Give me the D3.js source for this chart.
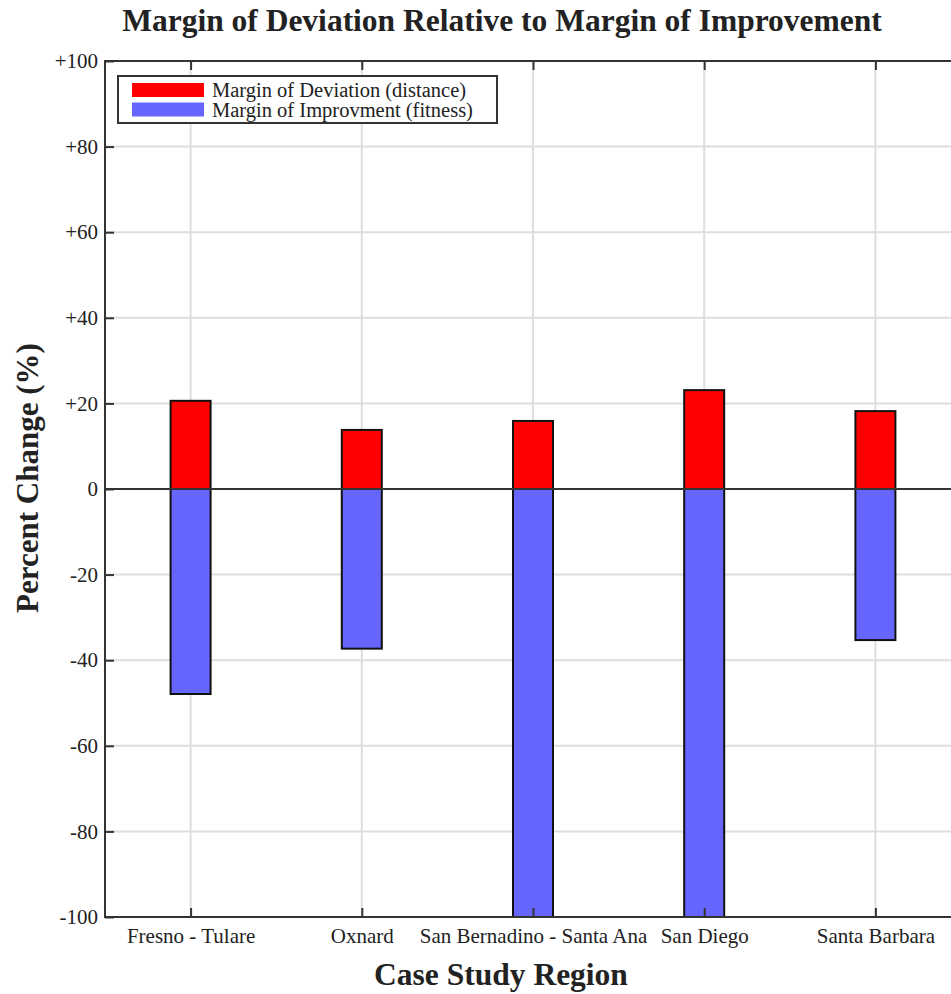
<!DOCTYPE html>
<html><head><meta charset="utf-8">
<script src="https://cdn.jsdelivr.net/npm/d3@7"></script>
<style>body{margin:0;background:#fff;overflow:hidden}</style>
</head><body>
<script>
const categories = ["Fresno - Tulare","Oxnard","San Bernadino - Santa Ana","San Diego","Santa Barbara"];
const deviation = [20.6, 13.8, 15.9, 23.1, 18.2];
const improvement = [-47.9, -37.3, -100, -100, -35.3];
const yTicks = [100,80,60,40,20,0,-20,-40,-60,-80,-100];
const seriesNames = ["Margin of Deviation (distance)","Margin of Improvment (fitness)"];
const colors = ["#ff0000","#6666ff"];

const W=951,H=994;
const m={left:105,right:961,top:61,bottom:917};
const FF="'Liberation Serif','Times New Roman',serif";
const svg=d3.select("body").append("svg").attr("width",W).attr("height",H)
  .style("font-family",FF);

const x=d3.scalePoint().domain(categories).range([m.left,m.right]).padding(0.5);
const y=d3.scaleLinear().domain([-100,100]).range([m.bottom,m.top]);
const bw=40;

// grid
svg.append("g").selectAll("line").data(yTicks).join("line")
  .attr("x1",m.left).attr("x2",m.right).attr("y1",d=>y(d)).attr("y2",d=>y(d))
  .attr("stroke","#dedede").attr("stroke-width",2);
svg.append("g").selectAll("line").data(categories).join("line")
  .attr("x1",d=>x(d)).attr("x2",d=>x(d)).attr("y1",m.top).attr("y2",m.bottom)
  .attr("stroke","#dedede").attr("stroke-width",2);

// bars
svg.append("clipPath").attr("id","c").append("rect")
  .attr("x",m.left).attr("y",m.top-2).attr("width",m.right-m.left).attr("height",m.bottom-m.top+4);
const bars=svg.append("g").attr("clip-path","url(#c)");
bars.selectAll("rect.dev").data(categories).join("rect").attr("class","dev")
  .attr("x",d=>x(d)-bw/2).attr("width",bw)
  .attr("y",(d,i)=>y(deviation[i])).attr("height",(d,i)=>y(0)-y(deviation[i]))
  .attr("fill",colors[0]).attr("stroke","#111").attr("stroke-width",2);
bars.selectAll("rect.imp").data(categories).join("rect").attr("class","imp")
  .attr("x",d=>x(d)-bw/2).attr("width",bw)
  .attr("y",y(0)).attr("height",(d,i)=>y(improvement[i])-y(0))
  .attr("fill",colors[1]).attr("stroke","#111").attr("stroke-width",2);

// zero line
svg.append("line").attr("x1",m.left).attr("x2",m.right).attr("y1",y(0)).attr("y2",y(0))
  .attr("stroke","#333").attr("stroke-width",2);

// frame
svg.append("rect").attr("x",m.left).attr("y",m.top).attr("width",m.right-m.left).attr("height",m.bottom-m.top)
  .attr("fill","none").attr("stroke","#333").attr("stroke-width",2);

// axes
const yAxis=d3.axisLeft(y).tickValues(yTicks).tickSize(-9).tickPadding(7)
  .tickFormat(d=>d>0?"+"+d:String(d));
const ga=svg.append("g").attr("transform",`translate(${m.left},0)`).call(yAxis);
ga.select(".domain").remove();
ga.selectAll(".tick line").attr("stroke","#333").attr("stroke-width",2);
ga.selectAll("text").attr("font-size",21).attr("fill","#222").attr("font-family",FF);

const xAxis=d3.axisBottom(x).tickSize(-9).tickPadding(11);
const gx=svg.append("g").attr("transform",`translate(0,${m.bottom})`).call(xAxis);
gx.select(".domain").remove();
gx.selectAll(".tick line").attr("stroke","#333").attr("stroke-width",2);
gx.selectAll("text").attr("font-size",21).attr("fill","#222").attr("font-family",FF);

const xTop=d3.axisTop(x).tickSize(-9).tickFormat("");
const gt=svg.append("g").attr("transform",`translate(0,${m.top})`).call(xTop);
gt.select(".domain").remove();
gt.selectAll(".tick line").attr("stroke","#333").attr("stroke-width",2);

// titles
svg.append("text").attr("x",502).attr("y",31).attr("text-anchor","middle")
  .attr("font-size",31.5).attr("font-weight","bold").attr("fill","#222")
  .text("Margin of Deviation Relative to Margin of Improvement");
svg.append("text").attr("x",501).attr("y",985).attr("text-anchor","middle")
  .attr("font-size",31.5).attr("font-weight","bold").attr("fill","#222")
  .text("Case Study Region");
svg.append("text").attr("transform","translate(38,478) rotate(-90)").attr("text-anchor","middle")
  .attr("font-size",31).attr("font-weight","bold").attr("fill","#222")
  .text("Percent Change (%)");

// legend
const lg=svg.append("g");
lg.append("rect").attr("x",118).attr("y",76).attr("width",379).attr("height",47)
  .attr("fill","#fff").attr("stroke","#333").attr("stroke-width",2);
seriesNames.forEach((s,i)=>{
  lg.append("rect").attr("x",132).attr("y",83+i*19.5).attr("width",72).attr("height",14).attr("fill",colors[i]);
  lg.append("text").attr("x",212).attr("y",97+i*20).attr("font-size",20.5).attr("fill","#222").text(s);
});
</script>
</body></html>
